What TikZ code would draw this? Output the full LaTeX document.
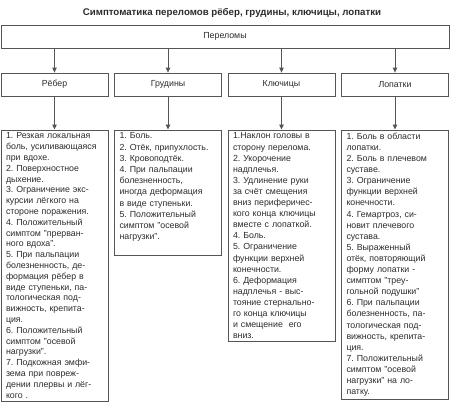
\documentclass[tikz,border=0pt]{standalone}
\usepackage{fontspec}
\setmainfont{Liberation Sans}
\usetikzlibrary{arrows.meta}
\definecolor{linegray}{HTML}{555555}
\definecolor{textgray}{HTML}{2b2b2b}
\frenchspacing
\tikzset{
  box/.style={draw=linegray, line width=.8pt, text=textgray, font=\fontsize{8.8}{10.8}\selectfont},
  head/.style={box, minimum width=107pt, minimum height=23pt, inner sep=0pt},
  detail/.style={box, anchor=north, text width=97pt, inner xsep=5pt, inner ysep=3pt, align=left},
  link/.style={draw=linegray, line width=.8pt, -{Triangle[length=5pt,width=4.5pt]}}
}

\begin{document}
\begin{tikzpicture}[x=1pt,y=-1pt]
    \useasboundingbox (0,0) rectangle (450,405);
    \node[text=textgray, font=\bfseries\fontsize{9.7}{11}\selectfont] (title) at (232,13)
      {Симптоматика переломов рёбер, грудины, ключицы, лопатки};
    \node[box, minimum width=448pt, minimum height=23pt, inner sep=0pt] (root) at (225,36.5) {Переломы};

    \node[head] (reber) at (54.5,84.5) {Рёбер};
    \node[head] (grudiny) at (168,84.5) {Грудины};
    \node[head] (klyuchicy) at (281.5,84.5) {Ключицы};
    \node[head] (lopatki) at (395,84.5) {Лопатки};

    \node[detail] (dreber) at (54.5,129.5) {1. Резкая локальная\\ боль, усиливающаяся\\ при вдохе.\\
      2. Поверхностное\\ дыхение.\\ 3. Ограничение экс-\\ курсии лёгкого на\\ стороне поражения.\\
      4. Положительный\\ симптом "прерван-\\ ного вдоха".\\ 5. При пальпации\\ болезненность, де-\\
      формация рёбер в\\ виде ступеньки, па-\\ тологическая под-\\ вижность, крепита-\\ ция.\\
      6. Положительный\\ симптом "осевой\\ нагрузки".\\ 7. Подкожная эмфи-\\ зема при повреж-\\
      дении плервы и лёг-\\ кого .};
    \node[detail, font=\fontsize{8.8}{11.2}\selectfont] (dgrudiny) at (168,129.5) {1. Боль.\\ 2. Отёк, припухлость.\\
      3. Кровоподтёк.\\ 4. При пальпации\\ болезненность,\\ иногда деформация\\ в виде ступеньки.\\
      5. Положительный\\ симптом "осевой\\ нагрузки".\par\vspace{11pt}};
    \node[detail, font=\fontsize{8.8}{11.1}\selectfont] (dklyuchicy) at (281.5,129.5) {1.Наклон головы в\\ сторону перелома.\\ 2. Укорочение\\
      надплечья.\\ 3. Удлинение руки\\ за счёт смещения\\ вниз периферичес-\\ кого конца ключицы\\
      вместе с лопаткой.\\ 4. Боль.\\ 5. Ограничение\\ функции верхней\\ конечности.\\ 6. Деформация\\
      надплечья - выс-\\ тояние стернально-\\ го конца ключицы\\ и смещение\ \ его\\ вниз.};
    \node[detail, font=\fontsize{8.8}{11.1}\selectfont] (dlopatki) at (395,129.5) {1. Боль в области\\ лопатки.\\ 2. Боль в плечевом\\ суставе.\\
      3. Ограничение\\ функции верхней\\ конечности.\\ 4. Гемартроз, си-\\ новит плечевого\\ сустава.\\
      5. Выраженный\\ отёк, повторяющий\\ форму лопатки -\\ симптом "треу-\\ гольной подушки"\\
      6. При пальпации\\ болезненность, па-\\ тологическая под-\\ вижность, крепита-\\ ция.\\
      7. Положительный\\ симптом "осевой\\ нагрузки" на ло-\\ патку.};

    \foreach \n in {reber,grudiny,klyuchicy,lopatki}{
      \draw[link] (root.south -| \n) -- (\n);
      \draw[link] (\n) -- (d\n);
    }
\end{tikzpicture}
\end{document}
